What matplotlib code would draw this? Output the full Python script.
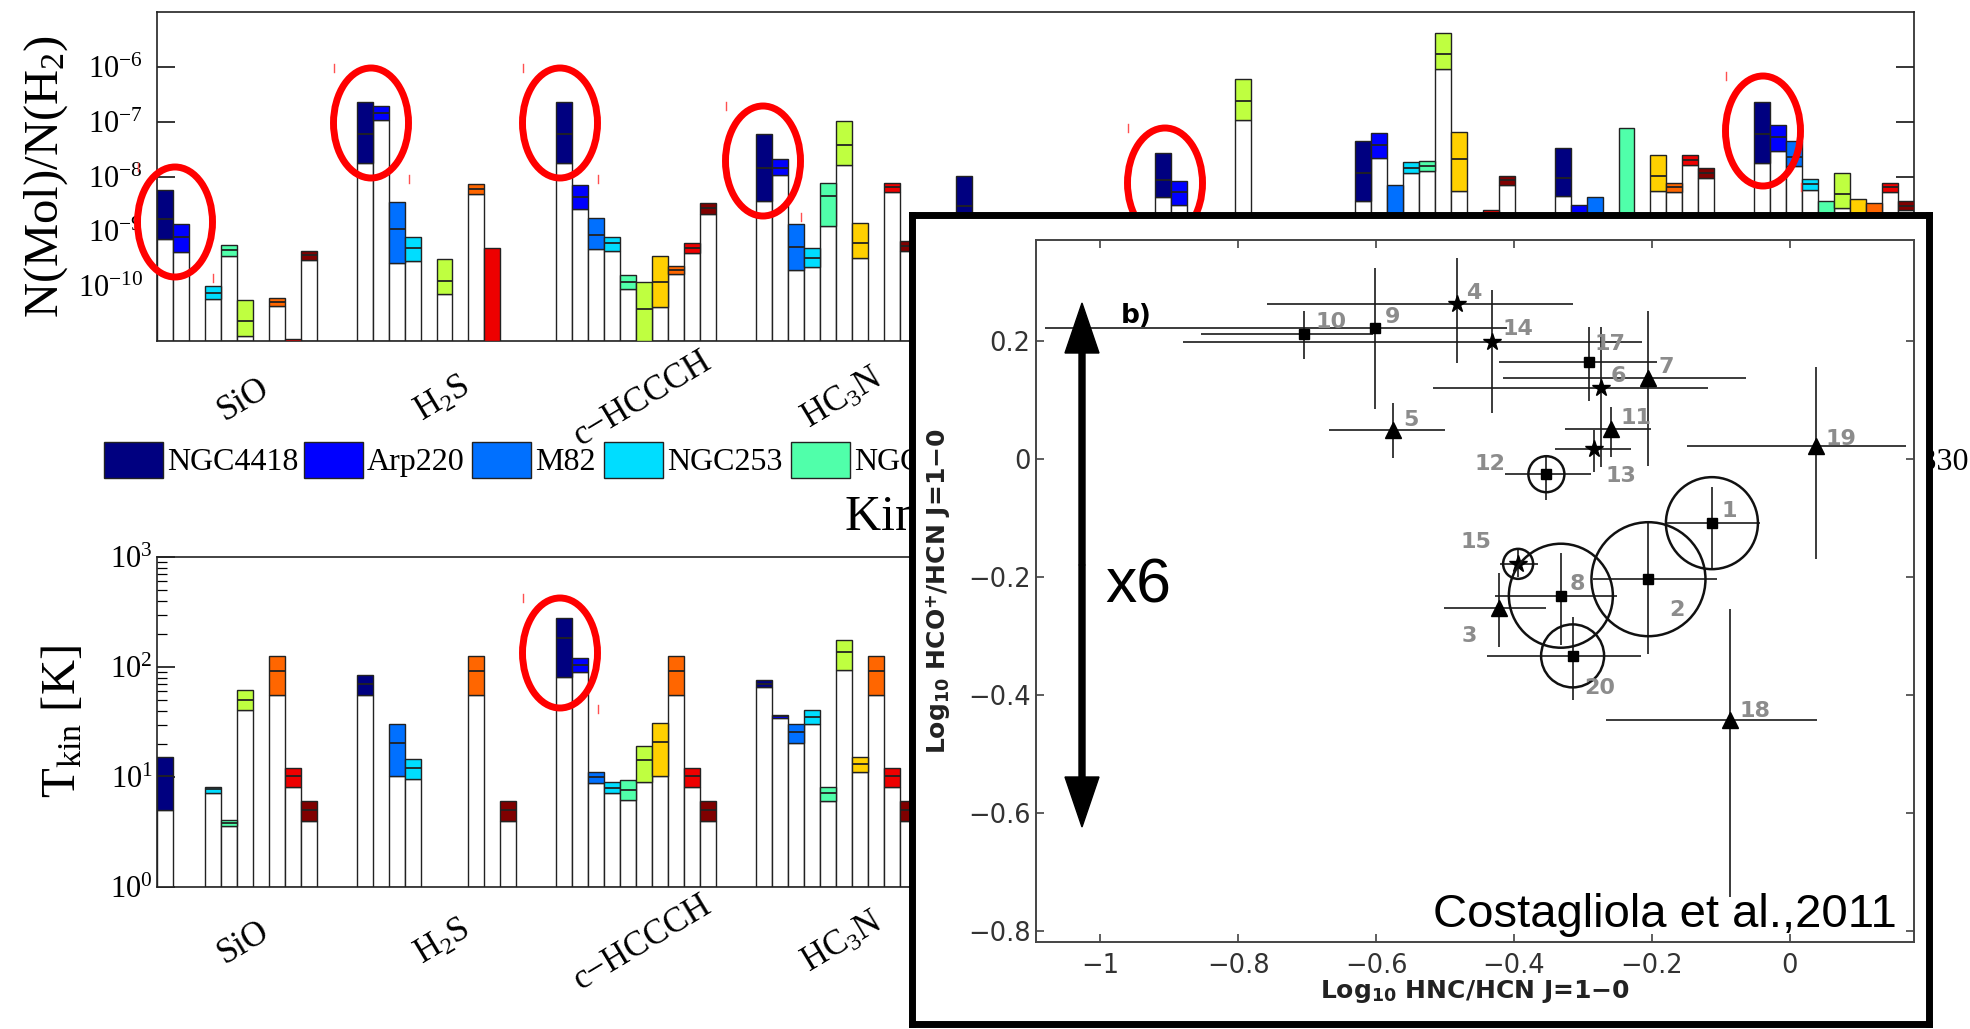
import numpy as np
import matplotlib
matplotlib.use('Agg')
import matplotlib.pyplot as plt
from matplotlib.patches import Ellipse, Rectangle, FancyArrow
from matplotlib.lines import Line2D
from matplotlib.ticker import NullLocator, NullFormatter, LogLocator, FuncFormatter

W, H = 1970, 1029
N = np.nan

plt.rcParams.update({
    'font.family': ['Liberation Serif', 'DejaVu Serif'],
    'mathtext.fontset': 'custom',
    'mathtext.rm': 'Liberation Serif',
    'mathtext.it': 'Liberation Serif:italic',
    'mathtext.bf': 'Liberation Serif:bold',
    'mathtext.sf': 'DejaVu Sans:bold',
})

# ------------------------------------------------------------------ data
galaxies = ['NGC4418', 'Arp220', 'M82', 'NGC253', 'NGC1068',
            'IC342', 'M83', 'NGC6946', 'Maffei2', 'NGC4330']
gal_colors = ['#000080', '#0000FF', '#0070FF', '#00DDFF', '#50FFAA',
              '#BFFF40', '#FFD000', '#FF6600', '#EE0000', '#800000']
molecules = ['SiO', 'H$_2$S', 'c\u2212HCCCH', 'HC$_3$N', 'HNCO',
             'CH$_3$OH', 'HNC', 'HCO$^+$', 'HCN']

# log10 N(Mol)/N(H2): upper edge, best value, lower edge of each box
nmol_hi = [
    [-8.24, -8.87, N, -10.00, -9.25, -10.26, N, -10.21, -10.97, -9.35],
    [-6.65, -6.72, -8.46, -9.10, N, -9.50, N, -8.13, -9.30, N],
    [-6.65, -8.16, -8.75, -9.10, -9.80, -9.93, -9.45, -9.63, -9.22, -8.49],
    [-7.23, -7.68, -8.87, -9.30, -8.11, -6.99, -8.84, N, -8.11, -9.17],
    [-7.99, N, N, N, N, N, N, N, N, N],
    [-7.58, -8.09, N, N, N, -6.23, N, N, N, N],
    [-7.35, -7.20, -8.16, -7.74, -7.71, -5.39, -7.18, N, -8.62, -7.99],
    [-7.48, -8.52, -8.37, N, -7.11, N, -7.60, -8.11, -7.60, -7.84],
    [-6.65, -7.06, -7.36, -8.04, -8.44, -7.94, -8.41, -8.49, -8.11, -8.45],
]
nmol_mid = [
    [-8.77, -9.10, N, -10.12, -9.34, -10.64, N, -10.29, N, -9.44],
    [-7.23, -6.85, -8.95, -9.30, N, -9.91, N, -8.22, N, N],
    [-7.23, -8.38, -9.07, -9.22, -9.93, -10.41, -9.92, -9.70, -9.31, -8.58],
    [-7.84, -7.84, -9.28, -9.48, -8.36, -7.43, -9.22, N, -8.20, -9.26],
    [-8.54, N, N, N, N, N, N, N, N, N],
    [-8.07, -8.29, N, N, N, -6.63, N, N, N, N],
    [-7.94, -7.43, N, -7.84, -7.81, -5.77, -7.68, N, N, -8.07],
    [-8.02, N, N, N, N, N, -7.99, -8.20, -7.70, -7.93],
    [-7.23, -7.28, -7.64, -8.14, N, -8.32, N, N, -8.20, -8.54],
]
nmol_lo = [
    [-9.14, -9.38, N, -10.24, -9.45, -10.91, N, -10.37, -11.0, -9.53],
    [-7.76, -6.97, -9.57, -9.55, N, -10.15, N, -8.32, -11.0, N],
    [-7.76, -8.60, -9.33, -9.36, -10.06, -11.0, -10.38, -9.78, -9.40, -8.68],
    [-8.44, -7.97, -9.70, -9.65, -8.90, -7.79, -9.48, N, -8.29, -9.36],
    [-9.00, N, N, N, N, N, N, N, N, N],
    [-8.38, -8.52, N, N, N, -6.97, N, N, N, N],
    [-8.45, -7.67, -9.20, -7.93, -7.90, -6.04, -8.27, N, -9.00, -8.15],
    [-8.35, -9.00, -9.00, N, -11.0, N, -8.27, -8.29, -7.79, -8.02],
    [-7.76, -7.54, -7.81, -8.24, -9.00, -8.58, -9.00, -9.00, -8.29, -8.61],
]

# log10 Tkin [K]
tkin_hi = [
    [1.180, N, N, 0.910, 0.606, 1.788, N, 2.10, 1.085, 0.78],
    [1.925, N, 1.485, 1.167, N, N, N, 2.10, N, 0.78],
    [2.449, 2.085, 1.046, 0.955, 0.970, 1.282, 1.494, 2.10, 1.085, 0.78],
    [1.885, 1.561, 1.485, 1.606, 0.909, 2.249, 1.182, 2.10, 1.085, 0.78],
] + [[N] * 10 for _ in range(5)]
tkin_mid = [
    [1.006, N, N, 0.894, 0.582, 1.697, N, 1.96, 1.006, 0.70],
    [1.849, N, 1.312, 1.082, N, N, N, 1.96, N, 0.70],
    [2.264, 2.021, 1.000, 0.903, 0.879, 1.158, 1.322, 1.96, 1.006, 0.70],
    [1.849, 1.552, 1.409, 1.546, 0.858, 2.137, 1.121, 1.96, 1.006, 0.70],
] + [[N] * 10 for _ in range(5)]
tkin_lo = [
    [0.700, N, N, 0.855, 0.552, 1.606, N, 1.75, 0.906, 0.60],
    [1.750, N, 1.006, 0.985, N, N, N, 1.75, N, 0.60],
    [1.909, 1.955, 0.949, 0.855, 0.794, 0.955, 1.006, 1.75, 0.906, 0.60],
    [1.818, 1.540, 1.309, 1.485, 0.782, 1.970, 1.046, 1.75, 0.906, 0.60],
] + [[N] * 10 for _ in range(5)]

# inset: Costagliola et al. 2011
src_id = [1, 2, 3, 4, 5, 6, 7, 8, 9, 10, 11, 12, 13, 14, 15, 17, 18, 19, 20]
hnc_hcn = [-0.113, -0.205, -0.422, -0.483, -0.575, -0.274, -0.205, -0.332, -0.601, -0.705,
           -0.260, -0.353, -0.284, -0.432, -0.394, -0.291, -0.087, 0.038, -0.315]
hco_hcn = [-0.108, -0.203, -0.251, 0.264, 0.050, 0.121, 0.138, -0.231, 0.223, 0.212,
           0.051, -0.025, 0.017, 0.199, -0.177, 0.165, -0.441, 0.023, -0.333]
hnc_lo = [-0.179, -0.285, -0.502, -0.758, -0.668, -0.517, -0.416, -0.428, -1.080, -0.854,
          -0.326, -0.413, -0.341, -0.880, -0.420, -0.421, -0.266, -0.149, -0.439]
hnc_hi = [-0.044, -0.106, -0.353, -0.315, -0.500, -0.119, -0.063, -0.251, -0.410, -0.604,
          -0.202, -0.289, -0.231, -0.214, -0.365, -0.193, 0.039, 0.169, -0.216]
hco_lo = [-0.185, -0.330, -0.318, 0.164, 0.002, -0.0125, -0.011, -0.315, 0.086, 0.171,
          0.004, -0.069, -0.021, 0.079, -0.199, 0.099, -0.742, -0.168, -0.407]
hco_hi = [-0.046, -0.108, -0.193, 0.342, 0.095, 0.224, 0.251, -0.159, 0.325, 0.251,
          0.089, 0.004, 0.050, 0.288, -0.153, 0.224, -0.254, 0.157, -0.267]
src_type = ['s', 's', '^', '*', '^', '*', '^', 's', 's', 's',
            '^', 's', '*', '*', '*', 's', '^', '^', 's']
ring_size = [46, 57, 0, 0, 0, 0, 0, 52, 0, 0, 0, 18, 0, 0, 15, 0, 0, 0, 31.5]

# ------------------------------------------------------------------ layout
label_dx = [17, 28, -30, 17, 18, 18, 18, 17, 17, 27, 25, -56, 27, 26, -42, 21, 25, 25, 27]
label_dy = [-12, 31, 28, -11, -10, -12, -11, -12, -11, -12, -11, -10, 27, -13, -22, -18, -9, -7, 32]
legend_x = [104, 304, 472, 604, 791, 991, 1186, 1381, 1576, 1774]
ellipse_c = [(175, 222), (371, 123), (560, 123), (763, 161), (1165, 183), (1763, 131), (560, 653)]
STRIDE = 12.5
XMAX = 8 * STRIDE + 10
EC = '#222222'
SANS = 'DejaVu Sans'

fig = plt.figure(figsize=(W / 100, H / 100), dpi=100)
fig.patch.set_facecolor('white')


def add_axes_px(x0, y0, x1, y1):
    return fig.add_axes([x0 / W, 1 - y1 / H, (x1 - x0) / W, (y1 - y0) / H])


def draw_bars(ax, hi, mid, lo, ymin_log):
    base = 10 ** ymin_log
    for g in range(len(hi)):
        for s in range(10):
            h, m, l = hi[g][s], mid[g][s], lo[g][s]
            if np.isnan(h):
                continue
            x = g * STRIDE + s + 0.5
            if l > ymin_log:
                ax.bar(x, 10 ** l - base, bottom=base, width=1, color='white',
                       edgecolor=EC, lw=1.0, zorder=2)
            ax.bar(x, 10 ** h - 10 ** l, bottom=10 ** l, width=1, color=gal_colors[s],
                   edgecolor=EC, lw=1.0, zorder=3)
            if not np.isnan(m):
                ax.hlines(10 ** m, x - 0.5, x + 0.5, color=EC, lw=1.3, zorder=4)


def style_bar_axes(ax, pad_y, pad_x):
    ax.set_xlim(0, XMAX)
    for sp in ax.spines.values():
        sp.set_linewidth(1.2)
        sp.set_color(EC)
    centers = np.arange(len(molecules)) * STRIDE + 5.4
    ax.set_xticks(centers, molecules, rotation=31, ha='center', va='center',
                  rotation_mode='anchor', fontsize=25)
    ax.tick_params(axis='x', length=0, pad=pad_x)
    ax.tick_params(axis='y', which='major', direction='in', length=13, width=1.1,
                   right=True, labelsize=22, pad=pad_y)
    ax.tick_params(axis='y', which='minor', direction='in', length=7, width=0.9, right=True)


# ---- top panel
ax1 = add_axes_px(157, 12, 1914, 341)
ax1.set_yscale('log')
ax1.set_ylim(1e-11, 1e-5)
draw_bars(ax1, nmol_hi, nmol_mid, nmol_lo, -11)
ax1.set_yticks([1e-10, 1e-9, 1e-8, 1e-7, 1e-6])
ax1.yaxis.set_minor_locator(NullLocator())
style_bar_axes(ax1, 10, 42)
fig.text(46 / W, 1 - 176 / H, 'N(Mol)/N(H$_2$)', rotation=90, ha='center', va='center',
         fontsize=35)

# ---- bottom panel
ax2 = add_axes_px(157, 557, 1914, 887)
ax2.set_yscale('log')
ax2.set_ylim(1, 1000)
draw_bars(ax2, tkin_hi, tkin_mid, tkin_lo, 0)
ax2.set_yticks([1, 10, 100, 1000])
ax2.yaxis.set_minor_locator(LogLocator(base=10, subs=np.arange(2, 10)))
ax2.yaxis.set_minor_formatter(NullFormatter())
style_bar_axes(ax2, 3, 40)
fig.text(63 / W, 1 - 722 / H, 'T$_{\\rm kin}$ [K]', rotation=90, ha='center', va='center',
         fontsize=35)
fig.text(845 / W, 1 - 530 / H, 'Kinetic temperature', fontsize=36, va='baseline')

# ---- legend row
for x0, name, col in zip(legend_x, galaxies, gal_colors):
    fig.add_artist(Rectangle((x0 / W, 1 - 478 / H), 59 / W, 36 / H, transform=fig.transFigure,
                             facecolor=col, edgecolor=EC, lw=1.0, zorder=2))
    fig.text((x0 + 63) / W, 1 - 470 / H, name, fontsize=23, va='baseline', zorder=3)

# ---- red ellipses and handle marks
for cx, cy in ellipse_c:
    fig.add_artist(Ellipse((cx / W, 1 - cy / H), 75 / W, 110 / H, transform=fig.transFigure,
                           fill=False, edgecolor='#FF0000', lw=5, zorder=5))
    for mx, my in ((cx - 37, cy - 55), (cx + 38, cy + 56)):
        fig.add_artist(Line2D([mx / W, mx / W], [1 - (my - 4) / H, 1 - (my + 4) / H],
                              transform=fig.transFigure, color='#FF5050', lw=1.0, zorder=5))

# ---- inset frame
frame = add_axes_px(912, 215, 1929, 1024)
frame.set_zorder(10)
frame.set_facecolor('white')
frame.set_xlim(912, 1929)
frame.set_ylim(1024, 215)
frame.set_xticks([])
frame.set_yticks([])
for sp in frame.spines.values():
    sp.set_linewidth(5)
    sp.set_color('black')

# ---- inset scatter
sc = add_axes_px(1036, 240, 1914, 942)
sc.set_zorder(11)
sc.set_facecolor('none')
sc.set_xlim(-1.093, 0.180)
sc.set_ylim(-0.818, 0.372)
for sp in sc.spines.values():
    sp.set_linewidth(1.4)
    sp.set_color('#444444')
sc.set_xticks([-1, -0.8, -0.6, -0.4, -0.2, 0])
sc.set_yticks([-0.8, -0.6, -0.4, -0.2, 0, 0.2])
fmt = FuncFormatter(lambda v, p: ('%g' % round(v, 3)).replace('-', '\u2212'))
sc.xaxis.set_major_formatter(fmt)
sc.yaxis.set_major_formatter(fmt)
sc.tick_params(direction='in', top=True, right=True, length=6, width=1.1, colors='#333333',
               labelsize=18.5)
sc.tick_params(axis='x', pad=8)
sc.tick_params(axis='y', pad=4)
for lab in sc.get_xticklabels() + sc.get_yticklabels():
    lab.set_family(SANS)

x = np.array(hnc_hcn)
y = np.array(hco_hcn)
xerr = [x - np.array(hnc_lo), np.array(hnc_hi) - x]
yerr = [y - np.array(hco_lo), np.array(hco_hi) - y]
sc.errorbar(x, y, xerr=xerr, yerr=yerr, fmt='none', ecolor='#1a1a1a', elinewidth=1.2,
            capsize=0, zorder=3)
msize = {'s': 6.5, '*': 13, '^': 11}
for xi, yi, m in zip(x, y, src_type):
    sc.plot(xi, yi, marker=m, color='black', markersize=msize[m], ls='none', zorder=4)
for xi, yi, r in zip(x, y, ring_size):
    if r > 0:
        sc.scatter(xi, yi, s=(2 * r * 0.72) ** 2, facecolors='none', edgecolors='#111111',
                   linewidths=1.8, zorder=5)
for xi, yi, sid, dx, dy in zip(x, y, src_id, label_dx, label_dy):
    sc.annotate(str(sid), (xi, yi), xytext=(dx, -dy), textcoords='offset pixels',
                ha='center', va='center', fontsize=16, color='#8c8c8c',
                family=SANS, weight='bold', zorder=6)

sc.set_xlabel('Log$_{\\mathsf{10}}$ HNC/HCN J=1\u22120', fontsize=18, weight='bold',
              family=SANS, color='#222222')
sc.xaxis.set_label_coords(0.5, -(978 - 942) / 702)
sc.set_ylabel('Log$_{\\mathsf{10}}$ HCO$^{\\mathsf{+}}$/HCN J=1\u22120', fontsize=18,
              weight='bold', family=SANS, color='#222222')
sc.yaxis.set_label_coords((953 - 1036) / 878, 0.5)

tr = frame.transData
sc.text(1121, 323, 'b)', transform=tr, fontsize=19, weight='bold', family=SANS,
        va='baseline', ha='left', zorder=7)
for tip in (303, 827):
    sc.add_patch(FancyArrow(1082, 565, 0, tip - 565, width=6, head_width=34, head_length=50,
                            length_includes_head=True, color='black', transform=tr,
                            clip_on=False, zorder=8))
sc.text(1105, 603, 'x6', transform=tr, fontsize=45, family='Liberation Sans',
        va='baseline', ha='left', zorder=8)
sc.text(1897, 927, 'Costagliola et al.,2011', transform=tr, fontsize=34,
        family='Liberation Sans', va='baseline', ha='right', zorder=8)

fig.savefig('out.png', dpi=100, facecolor='white')
